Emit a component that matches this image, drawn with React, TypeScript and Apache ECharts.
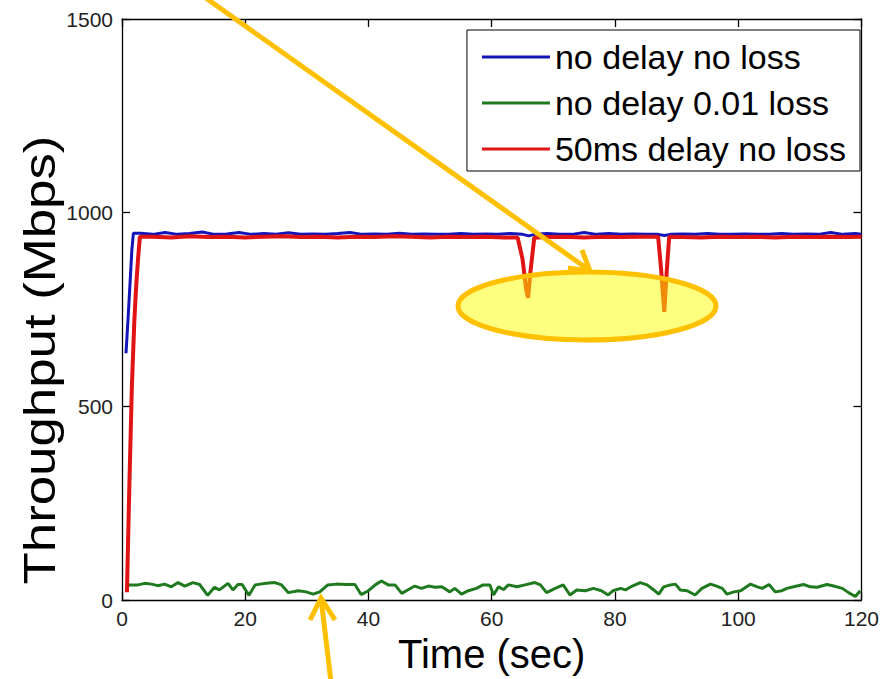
import React, { useEffect, useRef } from "react";
import * as echarts from "echarts";

// ---- data ----
const blueTime = [0.65, 1.0, 1.3, 1.6, 1.85, 3, 5, 7, 9, 11, 13, 15, 17, 19, 21, 23, 25, 27, 29, 31, 33, 35, 37, 39, 41, 43, 45, 47, 49, 51, 53, 55, 57, 59, 61, 63, 65, 66, 67, 69, 71, 73, 75, 77, 79, 81, 83, 85, 87, 88, 89, 91, 93, 95, 97, 99, 101, 103, 105, 107, 109, 111, 113, 115, 117, 119, 120];
const blueMbps = [637, 731, 817, 904, 947, 947, 944, 949, 944, 946, 950, 944, 945, 949, 944, 946, 944, 948, 944, 945, 944, 946, 949, 944, 945, 944, 947, 944, 945, 944, 944, 946, 944, 945, 944, 946, 944, 940, 944, 946, 944, 944, 949, 944, 946, 944, 945, 944, 944, 941, 944, 945, 944, 946, 944, 944, 945, 944, 944, 946, 944, 945, 944, 949, 944, 946, 944];

const greenTime = [0.8, 1.2, 2.6, 3.7, 4.8, 5.8, 6.9, 8.0, 9.1, 10.2, 11.5, 12.6, 13.9, 15.0, 15.8, 17.2, 18.0, 18.8, 19.5, 20.6, 21.6, 22.4, 23.4, 24.8, 25.9, 27.0, 28.6, 29.9, 31.0, 32.1, 33.4, 34.8, 36.4, 37.8, 38.8, 40.0, 41.1, 42.1, 43.2, 44.3, 45.4, 46.5, 47.5, 48.6, 49.7, 50.8, 51.9, 53.2, 54.0, 55.1, 56.2, 57.5, 58.6, 59.7, 60.3, 61.1, 61.9, 62.7, 64.1, 65.4, 67.0, 67.9, 68.9, 70.3, 71.6, 72.7, 73.8, 75.2, 76.5, 77.8, 78.9, 79.7, 80.9, 81.7, 82.8, 84.1, 85.2, 86.3, 87.1, 87.9, 89.0, 89.8, 90.6, 91.7, 93.0, 94.1, 95.5, 96.5, 97.4, 98.2, 99.3, 100.4, 102.0, 103.1, 103.9, 105.0, 106.0, 107.1, 107.9, 109.0, 110.6, 111.7, 112.8, 114.4, 115.5, 116.9, 117.9, 119.0, 119.8];
const greenMbps = [35, 39, 39, 43, 41, 37, 41, 34, 45, 36, 45, 40, 12, 33, 26, 43, 26, 40, 40, 12, 39, 41, 43, 45, 39, 19, 24, 21, 15, 21, 39, 41, 40, 40, 14, 24, 39, 49, 39, 39, 17, 27, 36, 30, 36, 33, 34, 21, 30, 15, 24, 30, 39, 39, 13, 34, 27, 39, 34, 39, 45, 39, 19, 30, 39, 13, 26, 24, 30, 24, 13, 24, 30, 26, 36, 45, 39, 26, 15, 34, 39, 41, 26, 24, 13, 30, 41, 36, 30, 15, 21, 24, 41, 34, 30, 40, 21, 24, 30, 34, 40, 34, 33, 40, 36, 30, 19, 9, 24];

const redTime = [0.8, 1.2, 1.6, 2.0, 2.3, 2.6, 2.9, 5, 8, 11, 14, 17, 20, 23, 26, 29, 32, 35, 38, 41, 44, 47, 50, 53, 56, 59, 62, 64.2, 65.0, 65.6, 65.9, 66.3, 66.9, 69, 72, 75, 78, 81, 84, 87.0, 87.5, 88.0, 88.4, 88.8, 91, 94, 97, 100, 103, 106, 109, 112, 115, 118, 120];
const redMbps = [20, 300, 550, 720, 810, 880, 938, 938, 936, 939, 937, 938, 936, 938, 939, 937, 938, 936, 938, 937, 939, 938, 936, 938, 937, 938, 936, 936, 880, 800, 780, 850, 935, 937, 938, 936, 938, 937, 938, 938, 850, 744, 850, 938, 937, 936, 938, 937, 938, 936, 938, 937, 938, 937, 938];

const seriesNames = ["no delay no loss", "no delay 0.01 loss", "50ms delay no loss"];
const seriesColors = ["#1414b8", "#1f7a1f", "#e01414"];
const xTitle = "Time (sec)";
const yTitle = "Throughput (Mbps)";

const pair = (t: number[], v: number[]) => t.map((x, i) => [x, v[i]]);

export default function App() {
  const ref = useRef<HTMLDivElement>(null);
  useEffect(() => {
    if (!ref.current) return;
    const chart = echarts.init(ref.current, undefined, { renderer: "svg" });
    const font = "'Liberation Sans', Arial, sans-serif";
    const axisCommon = {
      type: "value" as const,
      axisLine: { show: true, onZero: false, lineStyle: { color: "#000", width: 1.3 } },
      axisTick: { show: true, inside: true, length: 8, lineStyle: { color: "#000", width: 1.3 } },
      splitLine: { show: false },
    };
    const plain = (v: number) => String(v);
    chart.setOption({
      animation: false,
      backgroundColor: "#fff",
      grid: { left: 122, right: 20, top: 19, bottom: 79, containLabel: false },
      xAxis: [
        {
          ...axisCommon,
          min: 0, max: 120, interval: 20,
          axisLabel: { fontSize: 21, fontFamily: font, color: "#222", margin: 8, formatter: plain },
          name: xTitle, nameLocation: "middle", nameGap: 33,
          nameTextStyle: { fontSize: 40, fontFamily: font, color: "#000" },
        },
        { ...axisCommon, position: "top", min: 0, max: 120, interval: 20, axisLabel: { show: false } },
      ],
      yAxis: [
        {
          ...axisCommon,
          min: 0, max: 1500, interval: 500,
          axisLabel: { fontSize: 21, fontFamily: font, color: "#222", margin: 9, formatter: plain },
        },
        { ...axisCommon, position: "right", min: 0, max: 1500, interval: 500, axisLabel: { show: false } },
      ],
      legend: {
        right: 22, top: 30, orient: "vertical",
        itemWidth: 68, itemHeight: 3, itemGap: 8,
        backgroundColor: "#fff", borderColor: "#000", borderWidth: 1,
        padding: [8, 14, 3, 15],
        textStyle: { fontSize: 34, fontFamily: font, color: "#000", lineHeight: 38 },
        data: seriesNames.map((n) => ({ name: n, icon: "rect" })),
      },
      series: [
        { name: seriesNames[0], type: "line", data: pair(blueTime, blueMbps), symbol: "none", color: seriesColors[0], lineStyle: { width: 3, color: seriesColors[0] } },
        { name: seriesNames[1], type: "line", data: pair(greenTime, greenMbps), symbol: "none", color: seriesColors[1], lineStyle: { width: 3, color: seriesColors[1] } },
        { name: seriesNames[2], type: "line", data: pair(redTime, redMbps), symbol: "none", color: seriesColors[2], lineStyle: { width: 4, color: seriesColors[2] } },
      ],
      graphic: [
        {
          type: "text", x: 40, y: 360, rotation: Math.PI / 2, scaleX: 1.2, z: 50,
          style: { text: yTitle, font: `44px ${font}`, fill: "#000", align: "center", verticalAlign: "middle" },
        },
        {
          type: "ellipse", z: 100,
          shape: { cx: 587, cy: 306, rx: 129, ry: 34 },
          style: { fill: "rgba(255,255,0,0.5)", stroke: "#ffc000", lineWidth: 5 },
        },
        { type: "line", z: 100, shape: { x1: 203, y1: -4, x2: 589, y2: 270 }, style: { stroke: "#ffc000", lineWidth: 5 } },
        { type: "polyline", z: 100, shape: { points: [[582, 250], [590, 271], [568, 268]] }, style: { stroke: "#ffc000", lineWidth: 5, fill: null } },
        { type: "line", z: 100, shape: { x1: 331, y1: 682, x2: 321, y2: 598 }, style: { stroke: "#ffc000", lineWidth: 5 } },
        { type: "polyline", z: 100, shape: { points: [[310, 620], [321, 598], [335, 620]] }, style: { stroke: "#ffc000", lineWidth: 5, fill: null } },
      ],
    });
    return () => chart.dispose();
  }, []);
  return <div ref={ref} style={{ position: "fixed", left: 0, top: 0, width: 882, height: 679 }} />;
}
